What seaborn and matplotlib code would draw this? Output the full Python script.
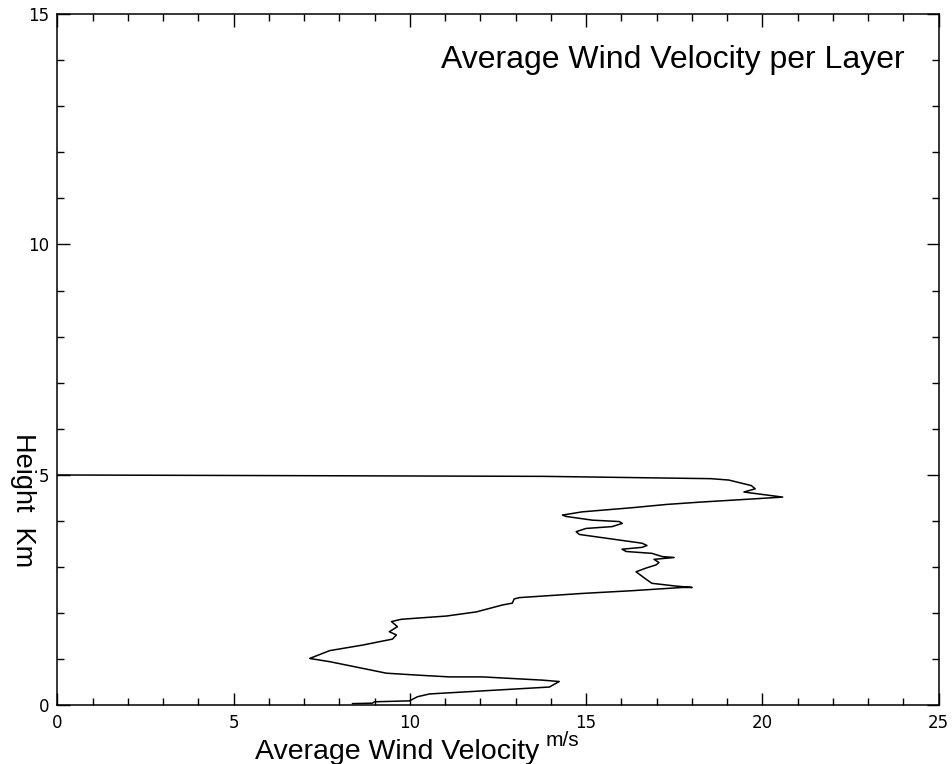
import matplotlib
matplotlib.use("Agg")
import matplotlib.pyplot as plt
from matplotlib.ticker import MultipleLocator
import pandas as pd
import seaborn as sns

# Wind speed profile (m/s) against height (km), traced from the ground up
velocity = [8.37, 8.94, 9.00, 9.99, 10.22, 10.56, 13.96, 14.24, 13.76, 12.06,
            11.12, 10.19, 9.34, 7.73, 7.16, 7.73, 8.66, 9.51, 9.62, 9.42,
            9.65, 9.48, 9.76, 11.04, 11.89, 12.63, 12.91, 12.96, 13.11, 14.89,
            16.31, 17.73, 18.01, 17.55, 16.87, 16.70, 16.42, 16.70, 16.99, 17.07,
            16.93, 17.50, 17.16, 16.87, 16.14, 16.02, 16.59, 16.73, 16.59, 15.37,
            14.81, 14.72, 15.00, 15.74, 16.03, 15.94, 15.18, 14.44, 14.33, 14.89,
            16.31, 17.27, 18.21, 20.58, 19.48, 19.80, 19.69, 19.05, 18.54, 13.81,
            0.00]
height = [0.04, 0.05, 0.08, 0.10, 0.19, 0.25, 0.40, 0.52, 0.55, 0.62,
          0.62, 0.66, 0.70, 0.95, 1.02, 1.19, 1.31, 1.44, 1.53, 1.60,
          1.71, 1.82, 1.87, 1.94, 2.03, 2.18, 2.22, 2.31, 2.34, 2.43,
          2.49, 2.56, 2.56, 2.59, 2.65, 2.74, 2.90, 2.98, 3.05, 3.10,
          3.17, 3.21, 3.23, 3.30, 3.34, 3.39, 3.43, 3.47, 3.52, 3.65,
          3.71, 3.77, 3.84, 3.88, 3.95, 3.99, 4.02, 4.10, 4.13, 4.20,
          4.29, 4.36, 4.41, 4.52, 4.63, 4.70, 4.77, 4.89, 4.92, 4.97,
          5.00]

x_ticks = [0, 5, 10, 15, 20, 25]
y_ticks = [0, 5, 10, 15]

df = pd.DataFrame({"velocity": velocity, "height": height})

sns.set_style("white")
plt.rcParams["font.family"] = ["DejaVu Sans"]

fig = plt.figure(figsize=(9.53, 7.64), dpi=100)
ax = fig.add_axes([0.0601, 0.0766, 0.9247, 0.9051])

sns.lineplot(data=df, x="velocity", y="height", sort=False, estimator=None,
             color="black", linewidth=1.1, ax=ax)

ax.set_xlim(0, 25)
ax.set_ylim(0, 15)
ax.set_xticks(x_ticks)
ax.set_yticks(y_ticks)
ax.set_xticklabels([str(t) for t in x_ticks])
ax.set_yticklabels([str(t) for t in y_ticks])
ax.xaxis.set_minor_locator(MultipleLocator(1))
ax.yaxis.set_minor_locator(MultipleLocator(1))
ax.tick_params(which="both", direction="in", top=True, right=True,
               bottom=True, left=True, width=1.0, color="black")
ax.tick_params(which="major", length=9, labelsize=12, pad=6, labelcolor="black")
ax.tick_params(which="minor", length=5)
for s in ax.spines.values():
    s.set_color("black")
    s.set_linewidth(1.1)

ax.set_xlabel("")
ax.set_ylabel("")

lab = dict(family=["Liberation Sans", "DejaVu Sans"], color="black")
ax.text(0.962, 0.933, "Average Wind Velocity per Layer", transform=ax.transAxes,
        ha="right", va="center", fontsize=23, **lab)
ax.text(0.386, -0.067, "Average Wind Velocity", transform=ax.transAxes,
        ha="center", va="center", fontsize=20.5, **lab)
ax.text(0.573, -0.050, "m/s", transform=ax.transAxes,
        ha="center", va="center", fontsize=15, **lab)
ax.text(-0.039, 0.297, "Height  Km", transform=ax.transAxes, rotation=-90,
        ha="center", va="center", fontsize=19.5, **lab)

fig.savefig("out.png", dpi=100, facecolor="white")
